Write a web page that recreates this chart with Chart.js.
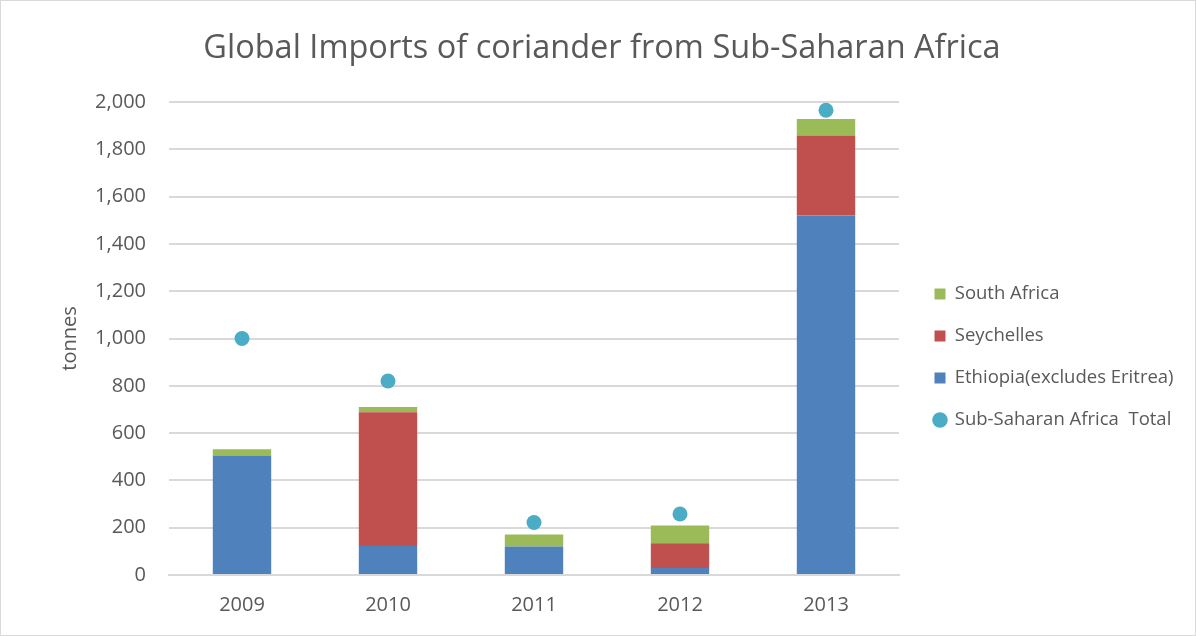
<!DOCTYPE html>
<html>
<head>
<meta charset="utf-8">
<script src="https://cdn.jsdelivr.net/npm/chart.js@4/dist/chart.umd.min.js"></script>
<style>
  html, body { margin: 0; padding: 0; background: #fff; }
  #wrap { position: relative; width: 1194px; height: 634px; border: 1px solid #d9d9d9; }
</style>
</head>
<body>
<div id="wrap"><canvas id="chart"></canvas></div>
<script>
// chart data
const years = ['2009', '2010', '2011', '2012', '2013']
const ethiopia = [505, 123, 121, 30, 1520]
const seychelles = [0, 565, 0, 104, 338]
const southAfrica = [27, 22, 50, 75, 70]
const totalSSA = [1000, 820, 222, 258, 1965]

// legend shows South Africa, Seychelles, Ethiopia, Total
const legendOrder = [2, 1, 0, 3]

const textColor = '#595959'
const gridColor = '#d9d9d9'
const fontFamily = '"Open Sans", sans-serif'

// legend box is a fixed width and sits a little away from the plot
const legendWidth = 296
const legendShiftX = 12
const legendShiftY = 39

const legendPlacement = {
  id: 'legendPlacement',
  afterInit(chart) {
    const legend = chart.legend
    if (!legend) return
    const fit = legend.fit
    legend.fit = function () {
      fit.call(this)
      this.width = legendWidth
    }
    const draw = legend.draw
    legend.draw = function () {
      this.ctx.save()
      this.ctx.translate(legendShiftX, legendShiftY)
      draw.apply(this, arguments)
      this.ctx.restore()
    }
  }
}

const ctx = document.getElementById('chart').getContext('2d')

new Chart(ctx, {
  type: 'bar',
  data: {
    labels: years,
    datasets: [
      { label: 'Ethiopia(excludes Eritrea)', data: ethiopia, backgroundColor: '#4f81bd', pointStyle: 'rect', order: 2 },
      { label: 'Seychelles', data: seychelles, backgroundColor: '#c0504d', pointStyle: 'rect', order: 2 },
      { label: 'South Africa', data: southAfrica, backgroundColor: '#9bbb59', pointStyle: 'rect', order: 2 },
      {
        type: 'line',
        label: 'Sub-Saharan Africa  Total',
        data: totalSSA,
        showLine: false,
        pointStyle: 'circle',
        pointRadius: 7.5,
        pointHoverRadius: 7.5,
        backgroundColor: '#4bacc6',
        borderColor: '#4bacc6',
        borderWidth: 0,
        stack: 'total',
        order: 1
      }
    ]
  },
  plugins: [legendPlacement],
  options: {
    responsive: true,
    maintainAspectRatio: false,
    animation: false,
    datasets: {
      bar: { categoryPercentage: 1, barPercentage: 0.4 }
    },
    layout: { padding: { left: 8, right: 0, top: 0, bottom: 0 } },
    plugins: {
      title: {
        display: true,
        text: 'Global Imports of coriander from Sub-Saharan Africa',
        color: textColor,
        font: { family: fontFamily, size: 32.5, weight: 'normal' },
        padding: { top: 28, bottom: 34 }
      },
      legend: {
        position: 'right',
        labels: {
          usePointStyle: true,
          boxWidth: 11,
          boxHeight: 11,
          padding: 23.5,
          color: textColor,
          font: { family: fontFamily, size: 18.5 },
          sort: (a, b) => legendOrder.indexOf(a.datasetIndex) - legendOrder.indexOf(b.datasetIndex)
        }
      },
      tooltip: { enabled: false }
    },
    scales: {
      x: {
        stacked: true,
        grid: { display: false, drawTicks: false },
        border: { color: gridColor, width: 2 },
        ticks: { color: textColor, font: { family: fontFamily, size: 20 }, padding: 18 }
      },
      y: {
        stacked: true,
        min: 0,
        max: 2000,
        afterFit: (scale) => { scale.width = 160 },
        ticks: {
          stepSize: 200,
          color: textColor,
          font: { family: fontFamily, size: 20 },
          padding: 23
        },
        grid: { color: gridColor, lineWidth: 2, drawTicks: false },
        border: { display: false },
        title: {
          display: true,
          text: 'tonnes',
          color: textColor,
          font: { family: fontFamily, size: 20 },
          padding: { top: 49, bottom: 0 }
        }
      }
    }
  }
})
</script>
</body>
</html>
